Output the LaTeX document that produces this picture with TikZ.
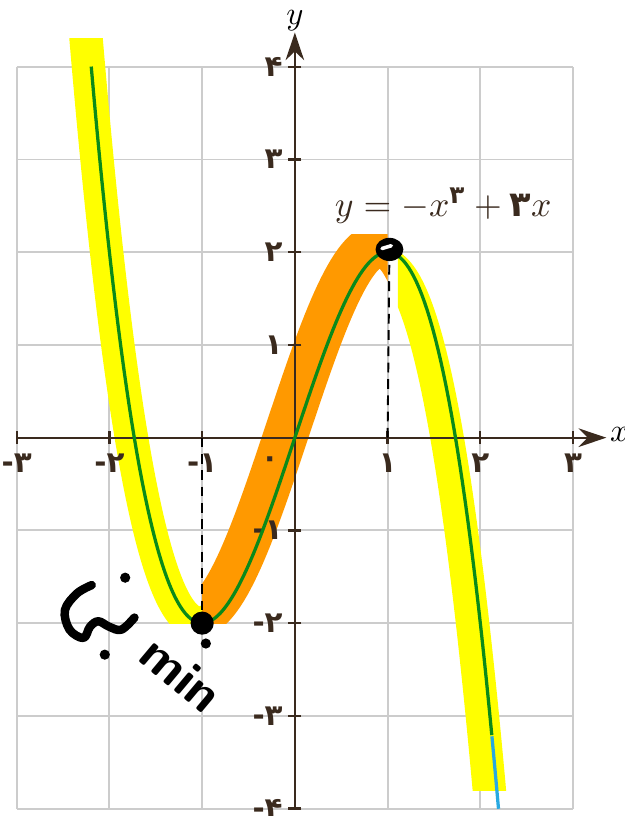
\documentclass[tikz,border=0pt]{standalone}
\usepackage{amsmath}
\usepackage{fontspec}
\newfontfamily\fadig{DejaVu Sans}
\usetikzlibrary{arrows.meta,shapes.geometric}
\definecolor{gridgray}{HTML}{CCCCCC}
\definecolor{axisbrown}{HTML}{3A2A1E}
\definecolor{hlyellow}{HTML}{FFFF00}
\definecolor{hlorange}{HTML}{FF9900}
\definecolor{curvegreen}{HTML}{0A8A1A}
\definecolor{curveblue}{HTML}{29A9E1}
\tikzset{
  numlabel/.style={font=\fadig\bfseries\small, text=axisbrown, inner sep=1pt},
  marker/.style={circle, fill=black, inner sep=0pt, minimum size=0.25cm},
  ink/.style={line width=2.6pt, line cap=round, line join=round},
  inkdot/.style={circle, fill=black, inner sep=0pt, minimum size=0.11cm},
}
\begin{document}
\begin{tikzpicture}
            \useasboundingbox (-3.18,-4.08) rectangle (3.56,4.72);
            \draw [gridgray, line width=0.6pt] (-3,-4) grid (3,4);
            % highlighter strokes
            \begin{scope}
                \clip (-3.2,-2) rectangle (-1,4.31);
                \draw [hlyellow, line width=0.36cm, domain=-2.35:-0.9, samples=80]
                    plot ({\x-0.03},{3*(\x)-(\x)*(\x)*(\x)});
            \end{scope}
            \begin{scope}
                \clip (-1,-2) rectangle (1,2.19);
                \draw [hlorange, line width=0.48cm, domain=-1.3:1.3, samples=80]
                    plot ({\x-0.08},{3*(\x)-(\x)*(\x)*(\x)+0.08});
            \end{scope}
            \begin{scope}
                \clip (1.11,-3.8) rectangle (3,2.14);
                \draw [hlyellow, line width=0.36cm, domain=0.8:2.4, samples=80]
                    plot ({\x-0.07},{3*(\x)-(\x)*(\x)*(\x)-0.12});
            \end{scope}
            % axes
            \draw [axisbrown, line width=0.7pt, -{Stealth[length=3mm,width=2mm]}] (-3,0) -- (3.36,0);
            \draw [axisbrown, line width=0.7pt, -{Stealth[length=3mm,width=2mm]}] (0,-4) -- (0,4.37);
            \node (xlab) at (3.5,0.03) {$x$};
            \node (ylab) at (0,4.5) {$y$};
            \foreach \x/\lab in {-3/-۳,-2/-۲,-1/-۱,1/۱,2/۲,3/۳}
                {\draw [axisbrown, line width=0.7pt] (\x,0.07) -- (\x,-0.07);
                \node [numlabel] (xl\x) at (\x,-0.28) {\lab};}
            \foreach \y/\lab in {-4/-۴,-3/-۳,-2/-۲,-1/-۱,1/۱,2/۲,3/۳,4/۴}
                {\draw [axisbrown, line width=0.7pt] (0.07,\y) -- (-0.07,\y);
                \node [numlabel, anchor=east] (yl\y) at (-0.09,\y) {\lab};}
            \node [numlabel] (orig) at (-0.27,-0.26) {۰};
            % the curve
            \draw [curvegreen, line width=1pt, domain=-2.196:2.125, samples=150]
                plot (\x,{3*(\x)-(\x)*(\x)*(\x)});
            \draw [curveblue, line width=1pt, domain=2.125:2.196, samples=10]
                plot (\x,{3*(\x)-(\x)*(\x)*(\x)});
            \node [text=axisbrown] (eqn) at (1.6,2.5) {\fontsize{10.8}{12}\selectfont $y=-x^{\text{\fadig\bfseries ۳}}+\text{\fadig\bfseries ۳}x$};
            % extrema
            \coordinate (minfoot) at (-1,0);
            \coordinate (maxfoot) at (1,0);
            \node [marker] (minpt) at (-1,-2) {};
            \node [marker, ellipse, minimum width=0.3cm] (maxpt) at (1.02,2.03) {};
            \draw [dashed, dash pattern=on 3pt off 2pt, line width=0.6pt] (minfoot) -- (minpt);
            \draw [dashed, dash pattern=on 3pt off 2pt, line width=0.6pt] (maxfoot) -- (maxpt);
            \draw [white, line width=1.1pt, line cap=round] ([xshift=-0.08cm,yshift=0.01cm]maxpt.center) -- ([xshift=0.02cm,yshift=0.04cm]maxpt.center);
            % handwritten note
            \draw [ink] plot [smooth, tension=0.6] coordinates {(-2.19,-1.59) (-2.35,-1.68) (-2.48,-1.86) (-2.43,-2.07) (-2.28,-2.16) (-2.21,-2.04) (-2.12,-1.98) (-2.00,-2.04) (-1.87,-2.07) (-1.73,-1.94)};
            \node [inkdot] (d1) at (-1.83,-1.51) {};
            \node [inkdot] (d2) at (-2.05,-2.34) {};
            \node [inkdot] (d3) at (-0.96,-2.22) {};
            \node [rotate=-40, font=\sffamily\bfseries\fontsize{16}{16}\selectfont] (mintxt) at (-1.22,-2.55) {min};
        \end{tikzpicture}
\end{document}
